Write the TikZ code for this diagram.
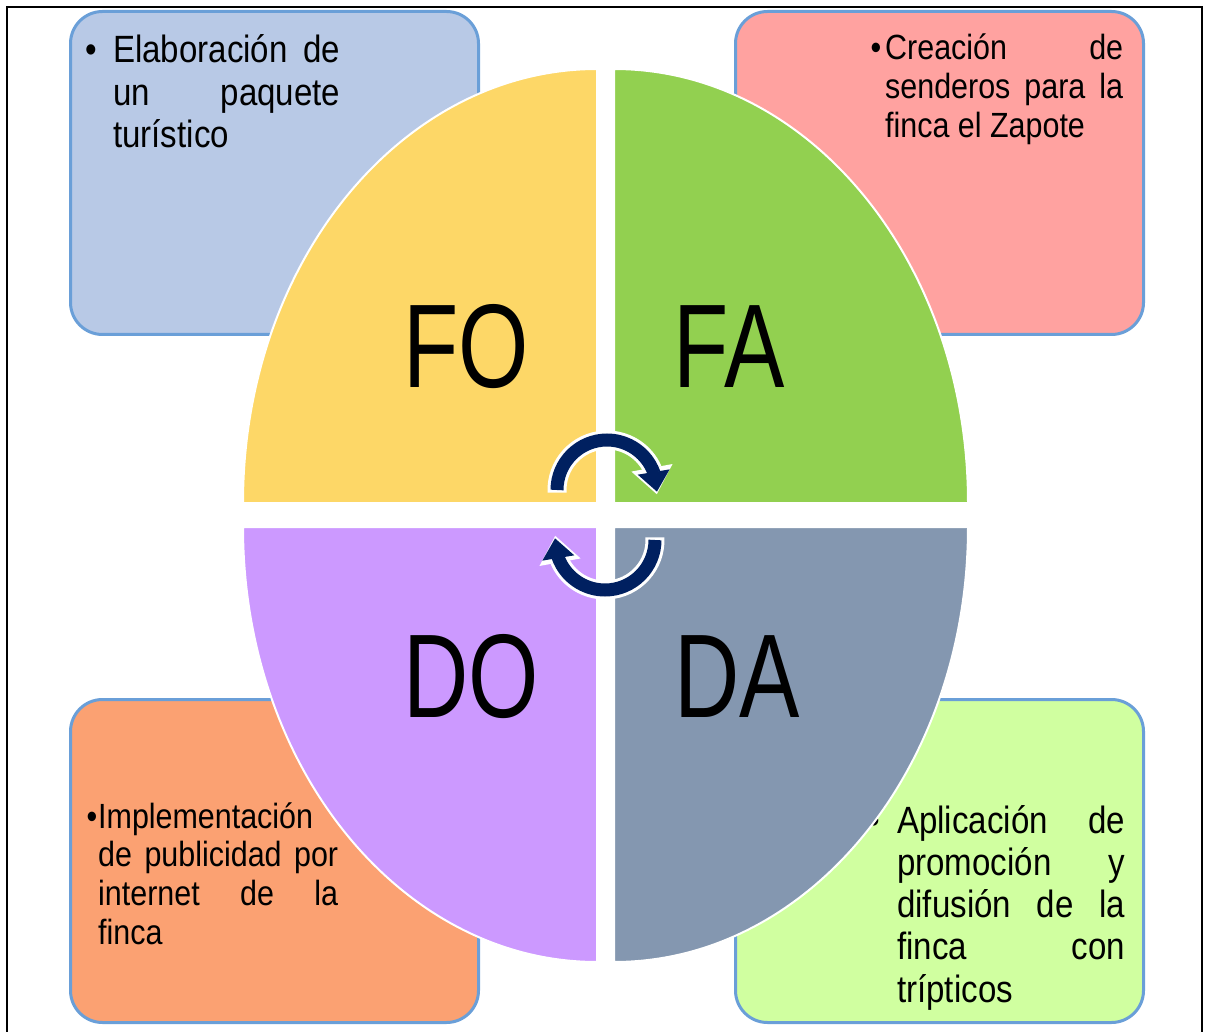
\documentclass[tikz,border=0pt]{standalone}
\usepackage{fontspec}
\setmainfont{Liberation Sans}[FakeStretch=0.87]
\newfontfamily\bigfont{Liberation Sans}[FakeStretch=0.76]
\usepackage{xcolor}
\usetikzlibrary{arrows.meta, bending}

\definecolor{foFill}{HTML}{FDD767}
\definecolor{faFill}{HTML}{92D050}
\definecolor{doFill}{HTML}{CC99FF}
\definecolor{daFill}{HTML}{8497B0}
\definecolor{boxFOfill}{HTML}{B8C9E6}
\definecolor{boxFAfill}{HTML}{FFA2A0}
\definecolor{boxDOfill}{HTML}{FBA172}
\definecolor{boxDAfill}{HTML}{D0FFA0}
\definecolor{boxLine}{HTML}{6A9FD8}
\definecolor{cycNavy}{HTML}{002060}

\hyphenpenalty=10000
\exhyphenpenalty=10000

\begin{document}
\begin{tikzpicture}[x=1pt, y=-1pt,
			box/.style={draw=boxLine, line width=3pt, rounded corners=32pt, anchor=north west, minimum width=408pt, minimum height=323pt},
			strat/.style={anchor=base west, inner sep=0pt, text width=#1, align=justify},
			bigtxt/.style={font=\fontsize{38}{42.3}\selectfont},
			smalltxt/.style={font=\fontsize{35}{38.7}\selectfont},
			quad/.style={draw=white, line width=2pt},
			lbl/.style={anchor=base, inner sep=0pt, font=\bigfont\fontsize{119}{119}\selectfont},
			cycback/.style={draw=white, line width=19pt, -{Triangle[width=40pt,length=27pt]}},
			cycfront/.style={draw=cycNavy, line width=13pt, -{Triangle[width=31pt,length=20pt]}},
			]
			\useasboundingbox (0,0) rectangle (1205,1032);
			
			% ---- frame ----
			\draw[line width=2pt] (7,1032) -- (7,7) -- (1202,7) -- (1202,1032);
			
			% ---- strategy boxes ----
			\node[box, fill=boxFOfill] (boxFO) at (69,10) {};
			\node[box, fill=boxFAfill] (boxFA) at (734,10) {};
			\node[box, fill=boxDOfill] (boxDO) at (69,698) {};
			\node[box, fill=boxDAfill] (boxDA) at (734,698) {};
			
			\node[strat=227pt, bigtxt] (txtFO) at (113,63)
				{\llap{•\hspace{16pt}}Elaboración de\linebreak un paquete\linebreak turístico};
			\node[strat=238pt, smalltxt] (txtFA) at (885,60)
				{\llap{•\hspace{4pt}}Creación de\linebreak senderos para la\linebreak finca el Zapote};
			\node[strat=240pt, smalltxt] (txtDO) at (98,828)
				{\llap{•\hspace{1pt}}Implementación\newline de publicidad por\linebreak internet de la\linebreak finca};
			\node[strat=228pt, bigtxt] (txtDA) at (897,833)
				{\llap{•\hspace{17pt}}Aplicación de\linebreak promoción y\linebreak difusión de la\linebreak finca con\linebreak trípticos};
			
			% ---- FODA quadrants ----
			\filldraw[quad, fill=foFill] (597,503) -- (243,503) arc[start angle=180, end angle=270, x radius=354, y radius=434] -- cycle;
			\filldraw[quad, fill=faFill] (614,503) -- (614,69) arc[start angle=270, end angle=360, x radius=354, y radius=434] -- cycle;
			\filldraw[quad, fill=doFill] (597,527) -- (243,527) arc[start angle=180, end angle=90, x radius=354, y radius=435] -- cycle;
			\filldraw[quad, fill=daFill] (614,527) -- (968,527) arc[start angle=0, end angle=90, x radius=354, y radius=435] -- cycle;
			
			\node[lbl] (lblFO) at (466,387) {FO};
			\node[lbl] (lblFA) at (729,387) {FA};
			\node[lbl] (lblDO) at (471,717) {DO};
			\node[lbl] (lblDA) at (737,717) {DA};
			
			% ---- cycle arrows ----
			\coordinate (cycTop) at (607,490);
			\coordinate (cycBot) at (605,540);
			\draw[cycback] ([shift={(177:50)}]cycTop) arc[start angle=177, end angle=365, radius=50];
			\draw[cycfront] ([shift={(180:50)}]cycTop) arc[start angle=180, end angle=362, radius=50];
			\draw[cycback] ([shift={(-3:50)}]cycBot) arc[start angle=-3, end angle=185, radius=50];
			\draw[cycfront] ([shift={(0:50)}]cycBot) arc[start angle=0, end angle=182, radius=50];
			
		\end{tikzpicture}
\end{document}
